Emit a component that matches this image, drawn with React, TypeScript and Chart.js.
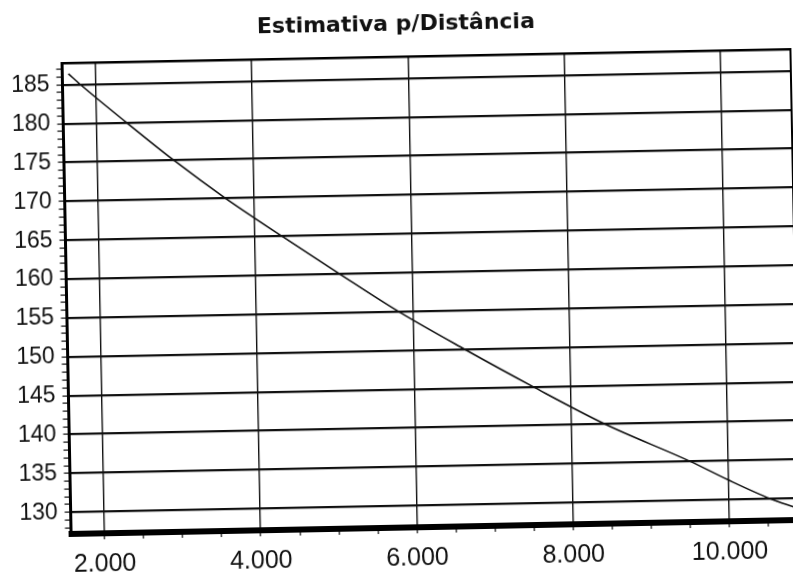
import React, { useEffect, useRef } from "react";
import { Chart, registerables } from "chart.js";

Chart.register(...registerables);

const chartTitle = "Estimativa p/Distância";

// curve (distance -> estimate)
const distancia = [1650, 1800, 2380, 2980, 3630, 4340, 5070, 5817, 6650, 7520, 8434, 9514, 10000, 10529, 10850];
const estimativa = [186.4, 185, 180, 175, 170, 165, 160, 155, 150, 145, 140, 135, 132.5, 130, 128.8];

const xMajorTicks = [2000, 4000, 6000, 8000, 10000];
const xTickLabels = ["2.000", "4.000", "6.000", "8.000", "10.000"];
const xMinorStep = 500;
const xRange = [1572, 10890];

const yMajorTicks = [130, 135, 140, 145, 150, 155, 160, 165, 170, 175, 180, 185];
const yTickLabels = ["130", "135", "140", "145", "150", "155", "160", "165", "170", "175", "180", "185"];
const yMinorStep = 1;
const yRange = [127.2, 187.8];

const INK = "#111";
const CLEAR = "rgba(0,0,0,0)";

function stepTicks(min: number, max: number, step: number) {
  const out: { value: number }[] = [];
  for (let v = Math.ceil(min / step) * step; v <= max + 1e-9; v += step) out.push({ value: Math.round(v * 1000) / 1000 });
  return out;
}

export default function App() {
  const ref = useRef<HTMLCanvasElement>(null);

  useEffect(() => {
    const canvas = ref.current;
    if (!canvas) return;
    const chart = new Chart(canvas, {
      type: "line",
      data: {
        datasets: [
          {
            data: distancia.map((x, i) => ({ x, y: estimativa[i] })),
            borderColor: INK,
            borderWidth: 1.6,
            pointRadius: 0,
            fill: false,
            cubicInterpolationMode: "monotone",
            xAxisID: "x",
            yAxisID: "y",
          },
        ],
      },
      options: {
        responsive: false,
        animation: false,
        layout: { padding: { left: 7.5, right: 7.5, top: 0, bottom: 0 } },
        plugins: {
          legend: { display: false },
          tooltip: { enabled: false },
          title: {
            display: true,
            text: chartTitle,
            color: INK,
            font: { family: "'DejaVu Sans', sans-serif", size: 22, weight: "bold" },
            padding: { top: 11.5, bottom: 18.1 },
          },
        },
        scales: {
          x: {
            type: "linear",
            position: "bottom",
            min: xRange[0],
            max: xRange[1],
            afterBuildTicks: (scale: any) => {
              scale.ticks = stepTicks(xRange[0], xRange[1], xMinorStep);
            },
            afterFit: (scale: any) => {
              scale.height = 56;
            },
            ticks: {
              autoSkip: false,
              maxRotation: 0,
              minRotation: 0,
              padding: 9.7,
              color: INK,
              font: { family: "'Liberation Sans', Arial, sans-serif", size: 25 },
              callback: (value: any) => {
                const i = xMajorTicks.indexOf(Number(value));
                return i >= 0 ? xTickLabels[i] : "";
              },
            },
            grid: {
              color: (ctx: any) => (ctx.tick && xMajorTicks.includes(ctx.tick.value) ? INK : CLEAR),
              lineWidth: 1.4,
              tickLength: 6,
              tickColor: INK,
              tickWidth: 1.2,
            },
            border: { display: true, color: "#000", width: 6 },
          },
          y: {
            type: "linear",
            position: "left",
            min: yRange[0],
            max: yRange[1],
            afterBuildTicks: (scale: any) => {
              scale.ticks = stepTicks(yRange[0], yRange[1], yMinorStep);
            },
            afterFit: (scale: any) => {
              scale.width = 59;
            },
            ticks: {
              autoSkip: false,
              padding: 7,
              color: INK,
              font: { family: "'Liberation Sans', Arial, sans-serif", size: 23 },
              callback: (value: any) => {
                const i = yMajorTicks.indexOf(Number(value));
                return i >= 0 ? yTickLabels[i] : "";
              },
            },
            grid: {
              color: (ctx: any) => (ctx.tick && yMajorTicks.includes(ctx.tick.value) ? INK : CLEAR),
              lineWidth: 2.2,
              tickLength: 6,
              tickColor: INK,
              tickWidth: 1.2,
            },
            border: { display: true, color: "#000", width: 3 },
          },
          x2: {
            type: "linear",
            position: "top",
            display: true,
            afterFit: (scale: any) => {
              scale.height = 0;
            },
            ticks: { display: false },
            grid: { drawOnChartArea: false, drawTicks: false, color: CLEAR },
            border: { display: true, color: "#000", width: 2.5 },
          },
          y2: {
            type: "linear",
            position: "right",
            display: true,
            afterFit: (scale: any) => {
              scale.width = 0;
            },
            ticks: { display: false },
            grid: { drawOnChartArea: false, drawTicks: false, color: CLEAR },
            border: { display: true, color: "#000", width: 2 },
          },
        },
      } as any,
    });
    return () => chart.destroy();
  }, []);

  return (
    <div
      style={{
        position: "fixed",
        left: 0,
        top: 0,
        width: 793,
        height: 583,
        overflow: "hidden",
        background: "#fff",
      }}
    >
      <canvas
        ref={ref}
        width={802}
        height={583}
        style={{
          position: "absolute",
          left: 0,
          top: 0,
          width: 802,
          height: 583,
          transform: "rotate(-1.1deg)",
          transformOrigin: "430.5px 291.5px",
        }}
      />
    </div>
  );
}
